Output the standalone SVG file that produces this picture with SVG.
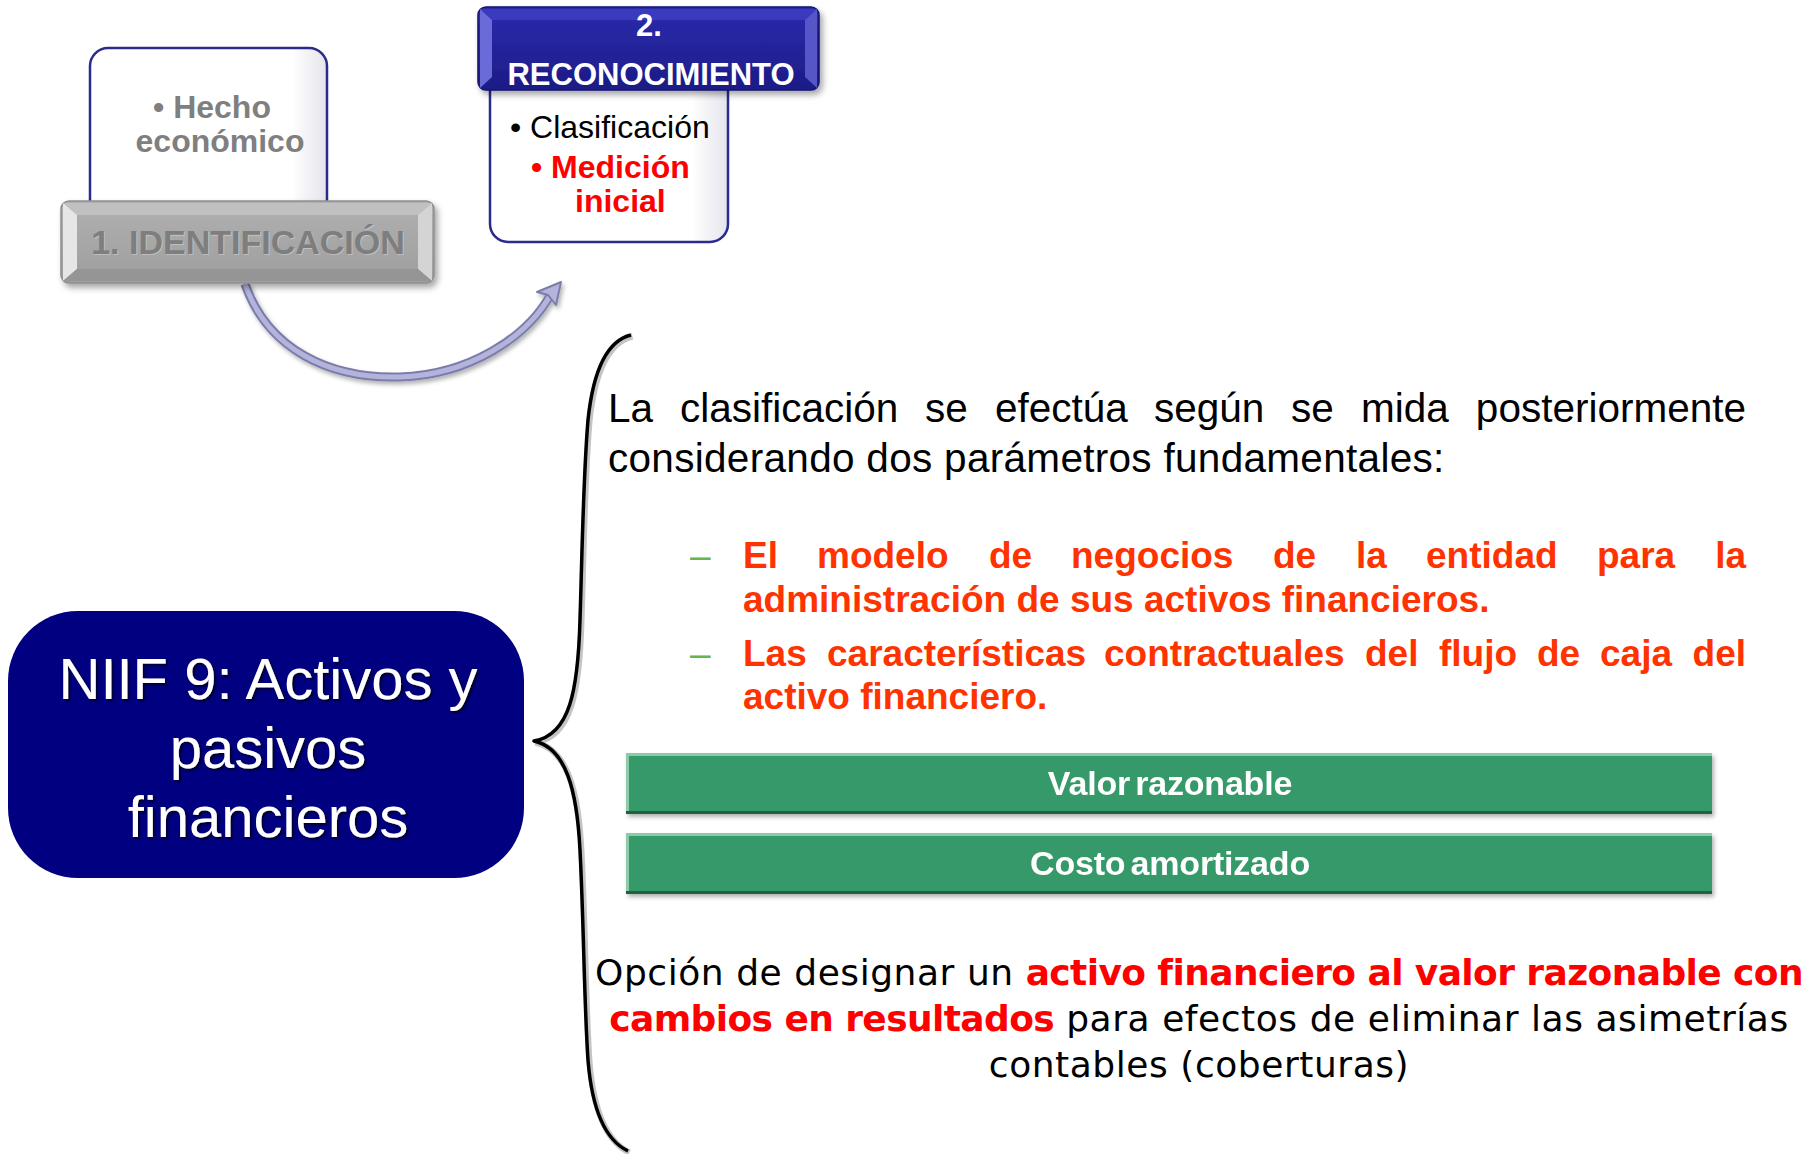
<svg xmlns="http://www.w3.org/2000/svg" width="1820" height="1154" viewBox="0 0 1820 1154">
<defs>
<style>
.sans{font-family:"Liberation Sans",Arial,sans-serif}
.ver{font-family:"DejaVu Sans",Verdana,sans-serif}
.b{font-weight:bold}
.wbox{fill:#ffffff;stroke:#2B2B8C;stroke-width:2.5}
.red{fill:#FF3300}
.pure{fill:#FF0000}
.dash{fill:#66B352}
.gbar{fill:#34996A}
.gtxt{fill:#ffffff;font-size:34px;font-weight:bold;letter-spacing:-0.2px;word-spacing:-4px}
.reg{letter-spacing:0.55px}
.bld{font-weight:bold;fill:#FF0000;letter-spacing:-0.6px}
</style>
<linearGradient id="blueG" x1="0" y1="0" x2="0" y2="1">
<stop offset="0" stop-color="#2B2BAE"/>
<stop offset="1" stop-color="#1C1C86"/>
</linearGradient>
<linearGradient id="grayG" x1="0" y1="0" x2="0" y2="1">
<stop offset="0" stop-color="#B0B0B0"/>
<stop offset="1" stop-color="#9E9E9E"/>
</linearGradient>
<linearGradient id="boxShade" x1="0" y1="0" x2="1" y2="0">
<stop offset="0.85" stop-color="#ffffff"/>
<stop offset="1" stop-color="#E4E4EC"/>
</linearGradient>
<filter id="sh" x="-10%" y="-10%" width="125%" height="140%">
<feDropShadow dx="3" dy="4" stdDeviation="3" flood-color="#000" flood-opacity="0.35"/>
</filter>
<filter id="tsh" x="-5%" y="-10%" width="110%" height="130%">
<feDropShadow dx="2" dy="2" stdDeviation="1" flood-color="#000022" flood-opacity="0.9"/>
</filter>
<filter id="soft" x="-10%" y="-10%" width="120%" height="130%">
<feDropShadow dx="2" dy="3" stdDeviation="2" flood-color="#000" flood-opacity="0.3"/>
</filter>
</defs>
<rect width="1820" height="1154" fill="#ffffff"/>

<g id="connectors">
<g id="arrow" filter="url(#soft)">
<path d="M245 284 C268 350 330 379 400 377 C468 375 528 338 552 292" fill="none" stroke="#7C7CAC" stroke-width="9"/>
<path d="M245 284 C268 350 330 379 400 377 C468 375 528 338 552 292" fill="none" stroke="#B3B3DB" stroke-width="5"/>
<polygon points="561,282 537,292 548,295 556,305" fill="#B3B3DB" stroke="#7C7CAC" stroke-width="2" stroke-linejoin="round"/>
</g>
<g id="brace">
<path d="M631 335 C606 341 593 372 588 420 C583 480 582 560 580 620 C578 690 570 735 534 741 C566 748 577 790 580 850 C584 930 584 1000 588 1060 C592 1110 605 1140 628 1151" fill="none" stroke="#8A8A8A" stroke-width="6" stroke-opacity="0.5" transform="translate(1.5,1.5)"/>
<path d="M631 335 C606 341 593 372 588 420 C583 480 582 560 580 620 C578 690 570 735 534 741 C566 748 577 790 580 850 C584 930 584 1000 588 1060 C592 1110 605 1140 628 1151" fill="none" stroke="#000000" stroke-width="3.5" stroke-linejoin="round"/>
</g>
</g>

<g id="node-hecho">
<rect x="90" y="48" width="237" height="175" rx="18" class="wbox" style="fill:url(#boxShade)"/>
<text class="sans b" font-size="32" fill="#7F7F7F" text-anchor="middle"><tspan x="212" y="118">• Hecho</tspan><tspan x="220" y="152">económico</tspan></text>
</g>

<g id="node-identificacion">
<rect x="61" y="201" width="373" height="82" rx="8" fill="url(#grayG)" stroke="#8E8E8E" stroke-width="1.5" filter="url(#sh)"/>
<polygon points="63,203 432,203 418,215 77,215" fill="#C0C0C0"/>
<polygon points="63,203 77,215 77,269 63,281" fill="#E6E6E6"/>
<polygon points="432,203 418,215 418,269 432,281" fill="#D4D4D4"/>
<polygon points="63,281 77,269 418,269 432,281" fill="#959595"/>
<text x="248" y="254" class="sans b" font-size="34" fill="#ffffff" fill-opacity="0.3" text-anchor="middle" transform="translate(1,1)">1. IDENTIFICACIÓN</text>
<text x="248" y="254" class="sans b" font-size="34" fill="#7E7E7E" text-anchor="middle">1. IDENTIFICACIÓN</text>
</g>

<g id="node-reconocimiento">
<rect x="490" y="60" width="238" height="182" rx="18" class="wbox" style="fill:url(#boxShade)"/>
<rect x="478" y="7" width="341" height="83" rx="8" fill="url(#blueG)" stroke="#16166E" stroke-width="1.5" filter="url(#sh)"/>
<polygon points="480,9 817,9 805,20 492,20" fill="#3A3ABE"/>
<polygon points="480,9 492,20 492,77 480,88" fill="#6A6AD8"/>
<polygon points="817,9 805,20 805,77 817,88" fill="#5656C8"/>
<text class="sans b" font-size="31" fill="#ffffff" text-anchor="middle"><tspan x="649" y="36">2.</tspan><tspan x="651" y="85">RECONOCIMIENTO</tspan></text>
<text x="510" y="138" class="sans" font-size="32" fill="#000000">• Clasificación</text>
<text x="531" y="178" class="sans b pure" font-size="32">• Medición</text>
<text x="575" y="212" class="sans b pure" font-size="32">inicial</text>
</g>

<g id="node-niif">
<rect x="8" y="611" width="516" height="267" rx="70" fill="#000080"/>
<g class="sans" font-size="58" fill="#ffffff" text-anchor="middle" filter="url(#tsh)">
<text x="268" y="699">NIIF 9: Activos y</text>
<text x="268" y="768">pasivos</text>
<text x="268" y="837">financieros</text>
</g>
</g>

<g id="node-clasificacion-texto" class="sans" font-size="40.5" fill="#000000">
<text y="422"><tspan x="608">La</tspan><tspan x="680">clasificación</tspan><tspan x="925">se</tspan><tspan x="995">efectúa</tspan><tspan x="1154">según</tspan><tspan x="1291">se</tspan><tspan x="1361">mida</tspan><tspan x="1746" text-anchor="end">posteriormente</tspan></text>
<text x="608" y="472" letter-spacing="0.3">considerando dos parámetros fundamentales:</text>
</g>

<g id="node-parametros" class="sans" font-size="37">
<text x="690" y="568" class="dash">–</text>
<text x="690" y="666" class="dash">–</text>
<text y="568" class="b red"><tspan x="743">El</tspan><tspan x="817">modelo</tspan><tspan x="989">de</tspan><tspan x="1071">negocios</tspan><tspan x="1273">de</tspan><tspan x="1356">la</tspan><tspan x="1426">entidad</tspan><tspan x="1597">para</tspan><tspan x="1746" text-anchor="end">la</tspan></text>
<text x="743" y="612" class="b red">administración de sus activos financieros.</text>
<text y="666" class="b red"><tspan x="743">Las</tspan><tspan x="827">características</tspan><tspan x="1104">contractuales</tspan><tspan x="1365">del</tspan><tspan x="1439">flujo</tspan><tspan x="1537">de</tspan><tspan x="1600">caja</tspan><tspan x="1746" text-anchor="end">del</tspan></text>
<text x="743" y="709" class="b red">activo financiero.</text>
</g>

<g id="node-valor-razonable" filter="url(#soft)">
<rect x="626" y="753" width="1086" height="61" class="gbar"/>
<rect x="626" y="753" width="1086" height="3" fill="#8CCBA8"/>
<rect x="626" y="753" width="3" height="58" fill="#8CCBA8"/>
<rect x="626" y="811" width="1086" height="3" fill="#22603F"/>
<text x="1170" y="795" class="sans gtxt" text-anchor="middle">Valor razonable</text>
</g>

<g id="node-costo-amortizado" filter="url(#soft)">
<rect x="626" y="833" width="1086" height="61" class="gbar"/>
<rect x="626" y="833" width="1086" height="3" fill="#8CCBA8"/>
<rect x="626" y="833" width="3" height="58" fill="#8CCBA8"/>
<rect x="626" y="891" width="1086" height="3" fill="#22603F"/>
<text x="1170" y="875" class="sans gtxt" text-anchor="middle">Costo amortizado</text>
</g>

<g id="node-opcion" class="ver" font-size="36" fill="#000000" text-anchor="middle">
<text x="1199" y="985"><tspan class="reg">Opción de designar un </tspan><tspan class="bld">activo financiero al valor razonable con</tspan></text>
<text x="1199" y="1031"><tspan class="bld">cambios en resultados</tspan><tspan class="reg"> para efectos de eliminar las asimetrías</tspan></text>
<text x="1199" y="1077" class="reg">contables (coberturas)</text>
</g>
</svg>
